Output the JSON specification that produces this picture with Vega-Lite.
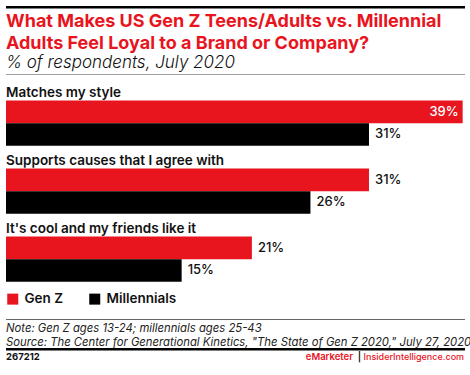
{
  "$schema": "https://vega.github.io/schema/vega-lite/v6.json",
  "padding": {"left": 6, "right": 5, "top": 6, "bottom": 0},
  "background": "white",
  "spacing": 0,
  "resolve": {"legend": {"color": "independent"}},
  "config": {"font": "Inter", "view": {"stroke": null}},
  "datasets": {
    "bars": [
      {"category": "Matches my style", "series": "Gen Z", "value": 39, "label": "39%"},
      {"category": "Matches my style", "series": "Millennials", "value": 31, "label": "31%"},
      {"category": "Supports causes that I agree with", "series": "Gen Z", "value": 31, "label": "31%"},
      {"category": "Supports causes that I agree with", "series": "Millennials", "value": 26, "label": "26%"},
      {"category": "It's cool and my friends like it", "series": "Gen Z", "value": 21, "label": "21%"},
      {"category": "It's cool and my friends like it", "series": "Millennials", "value": 15, "label": "15%"}
    ],
    "frame": [{"v": 0}]
  },
  "vconcat": [
    {
      "width": 459, "height": 2.5,
      "view": {"fill": "#000000", "stroke": null},
      "data": {"name": "frame"},
      "mark": {"type": "text", "text": " ", "fontSize": 0.1},
      "encoding": {"x": {"datum": 0, "type": "quantitative", "scale": {"domain": [0, 1]}, "axis": null}}
    },
    {
      "width": 459, "height": 3.5,
      "data": {"name": "frame"},
      "mark": {"type": "text", "text": " ", "fontSize": 0.1},
      "encoding": {"x": {"datum": 0, "type": "quantitative", "scale": {"domain": [0, 1]}, "axis": null}}
    },
    {
      "width": 459, "height": 1,
      "view": {"fill": "#a0a0a0", "stroke": null},
      "title": {
        "text": ["What Makes US Gen Z Teens/Adults vs. Millennial", "Adults Feel Loyal to a Brand or Company?"],
        "subtitle": "% of respondents, July 2020",
        "anchor": "start",
        "color": "#e8141e",
        "fontSize": 18,
        "fontWeight": "bold",
        "lineHeight": 22,
        "subtitleColor": "#111111",
        "subtitleFontStyle": "italic",
        "subtitleFontWeight": 300,
        "subtitleFontSize": 17,
        "subtitlePadding": 2,
        "offset": 3
      },
      "data": {"name": "frame"},
      "mark": {"type": "text", "text": " ", "fontSize": 0.1},
      "encoding": {"x": {"datum": 0, "type": "quantitative", "scale": {"domain": [0, 1]}, "axis": null}}
    },
    {
      "width": 459, "height": 209.6,
      "data": {"name": "bars"},
      "encoding": {
        "y": {
          "field": "category", "type": "nominal",
          "sort": ["Matches my style", "Supports causes that I agree with", "It's cool and my friends like it"],
          "axis": null,
          "scale": {"paddingInner": 0, "paddingOuter": 0.041}
        }
      },
      "layer": [
        {
          "mark": {"type": "bar"},
          "encoding": {
            "x": {"field": "value", "type": "quantitative", "scale": {"domain": [0, 39.2], "nice": false}, "axis": null},
            "yOffset": {"field": "series", "scale": {"domain": ["label", "Gen Z", "Millennials"], "paddingInner": 0, "paddingOuter": 0}},
            "color": {
              "field": "series", "type": "nominal",
              "scale": {"domain": ["Gen Z", "Millennials"], "range": ["#e8141e", "#000000"]},
              "legend": {
                "orient": "bottom", "direction": "horizontal", "title": null,
                "symbolType": "square", "symbolSize": 121, "symbolStrokeWidth": 0,
                "labelFontSize": 13.5, "labelFontWeight": 600, "labelColor": "#111111",
                "labelOffset": 5, "columnPadding": 24, "offset": 7, "padding": 0
              }
            }
          }
        },
        {
          "transform": [{"filter": "datum.series == 'Gen Z'"}],
          "mark": {"type": "text", "align": "left", "baseline": "alphabetic", "dy": 19, "fontSize": 13.5, "fontWeight": 600, "color": "#111111"},
          "encoding": {
            "x": {"datum": 0},
            "y": {"field": "category", "type": "nominal", "bandPosition": 0, "sort": ["Matches my style", "Supports causes that I agree with", "It's cool and my friends like it"]},
            "text": {"field": "category"}
          }
        },
        {
          "transform": [{"filter": "datum.value < 35"}],
          "mark": {"type": "text", "align": "left", "baseline": "middle", "dx": 6, "fontSize": 13, "fontWeight": 500, "color": "#111111"},
          "encoding": {
            "x": {"field": "value", "type": "quantitative"},
            "yOffset": {"field": "series"},
            "text": {"field": "label"}
          }
        },
        {
          "transform": [{"filter": "datum.value >= 35"}],
          "mark": {"type": "text", "align": "right", "baseline": "middle", "dx": -4, "fontSize": 13, "fontWeight": 500, "color": "#ffffff"},
          "encoding": {
            "x": {"field": "value", "type": "quantitative"},
            "yOffset": {"field": "series"},
            "text": {"field": "label"}
          }
        }
      ]
    },
    {
      "width": 459, "height": 13,
      "data": {"name": "frame"},
      "mark": {"type": "text", "text": " ", "fontSize": 0.1},
      "encoding": {"x": {"datum": 0, "type": "quantitative", "scale": {"domain": [0, 1]}, "axis": null}}
    },
    {
      "width": 459, "height": 1,
      "view": {"fill": "#666666", "stroke": null},
      "title": {
        "text": ["Note: Gen Z ages 13-24; millennials ages 25-43", "Source: The Center for Generational Kinetics, \"The State of Gen Z 2020,\" July 27, 2020"],
        "orient": "bottom", "anchor": "start",
        "fontSize": 11.3, "fontStyle": "italic", "fontWeight": "normal",
        "color": "#222222", "lineHeight": 13.7, "offset": 3
      },
      "data": {"name": "frame"},
      "mark": {"type": "text", "text": " ", "fontSize": 0.1},
      "encoding": {"x": {"datum": 0, "type": "quantitative", "scale": {"domain": [0, 1]}, "axis": null}}
    },
    {
      "width": 459, "height": 2.5,
      "view": {"fill": "#000000", "stroke": null},
      "data": {"name": "frame"},
      "mark": {"type": "text", "text": " ", "fontSize": 0.1},
      "encoding": {"x": {"datum": 0, "type": "quantitative", "scale": {"domain": [0, 1]}, "axis": null}}
    },
    {
      "width": 459, "height": 12,
      "data": {"name": "frame"},
      "encoding": {
        "x": {"datum": 0, "type": "quantitative", "scale": {"domain": [0, 1]}, "axis": null}
      },
      "layer": [
        {"mark": {"type": "text", "text": "267212", "align": "left", "baseline": "middle", "fontSize": 9.5, "fontWeight": "bold", "color": "#111111"},
         "encoding": {"x": {"datum": 0}}},
        {"mark": {"type": "text", "text": "eMarketer", "align": "right", "baseline": "middle", "fontSize": 9.5, "fontWeight": 600, "color": "#e8141e"},
         "encoding": {"x": {"datum": 0.756}}},
        {"mark": {"type": "text", "text": "|", "align": "center", "baseline": "middle", "fontSize": 9.5, "fontWeight": 600, "color": "#111111"},
         "encoding": {"x": {"datum": 0.770}}},
        {"mark": {"type": "text", "text": "InsiderIntelligence.com", "align": "right", "baseline": "middle", "fontSize": 9, "fontWeight": 500, "color": "#e8141e"},
         "encoding": {"x": {"datum": 0.998}}}
      ]
    }
  ]
}
